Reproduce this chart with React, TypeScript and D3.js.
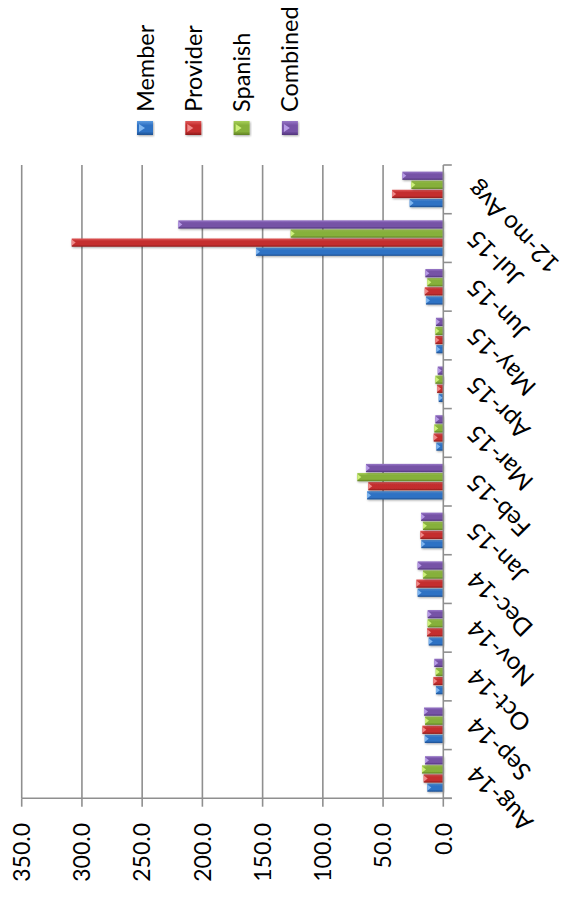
import React from "react";
import * as d3 from "d3";

const categories = ["Aug-14", "Sep-14", "Oct-14", "Nov-14", "Dec-14", "Jan-15", "Feb-15", "Mar-15", "Apr-15", "May-15", "Jun-15", "Jul-15", "12-mo Avg"];
const member = [13.3, 15.4, 6.1, 12.1, 21.3, 18.3, 63.3, 5.8, 3.8, 5.8, 14.4, 155.5, 27.9];
const provider = [16.3, 17.4, 8.3, 13.5, 22.4, 19.1, 62.3, 8.0, 5.2, 6.6, 15.4, 308.5, 42.5];
const spanish = [17.7, 15.2, 6.3, 13.0, 16.9, 16.9, 71.4, 7.5, 6.6, 6.6, 13.3, 126.7, 26.5];
const combined = [15.2, 16.0, 7.5, 13.0, 21.3, 18.5, 64.2, 6.6, 4.6, 6.1, 14.9, 220.0, 34.0];
const seriesNames = ["Member", "Provider", "Spanish", "Combined"];
const valueTicks = [0, 50, 100, 150, 200, 250, 300, 350];

const seriesValues = [member, provider, spanish, combined];
const palette = [
  { base: "#2f72c4", light: "#5d9be0", dark: "#1d4f8f", tri: "#7fb6f0" },
  { base: "#c42f2f", light: "#e05a5a", dark: "#8c1c1c", tri: "#f08a8a" },
  { base: "#86b03a", light: "#a8d05a", dark: "#5e7f22", tri: "#cdf07a" },
  { base: "#7652a6", light: "#9878c8", dark: "#51357a", tri: "#b79be6" },
];

const W = 563;
const H = 898;
const FONT = "Lato, 'Noto Sans', sans-serif";

export default function App() {
  const x = d3.scaleLinear().domain([0, 350]).range([443.3, 21.7]);
  const y = d3.scaleBand<string>().domain(categories).range([798.3, 165]).padding(0);
  const inner = d3
    .scaleBand<string>()
    .domain(seriesNames)
    .range([y.bandwidth(), 0])
    .paddingInner(0)
    .paddingOuter(0.68);
  const x0 = x(0);
  const top = 165;
  const bottom = 798.3;
  const fmt = d3.format(".1f");
  const gridColor = "#8f8f8f";

  const boundaries = categories.map((c) => (y(c) as number) + y.bandwidth()).concat([top]);

  return (
    <svg
      width={W}
      height={H}
      style={{ position: "absolute", left: 0, top: 0, background: "#fff" }}
      fontFamily={FONT}
    >
      <defs>
        {palette.map((p, i) => (
          <linearGradient key={i} id={`g${i}`} x1="0" y1="0" x2="0" y2="1">
            <stop offset="0" stopColor={p.light} />
            <stop offset="0.3" stopColor={p.base} />
            <stop offset="0.75" stopColor={p.base} />
            <stop offset="1" stopColor={p.dark} />
          </linearGradient>
        ))}
        <filter id="sh" x="-10%" y="-50%" width="120%" height="200%">
          <feDropShadow dx="0.8" dy="1" stdDeviation="1.2" floodColor="#000" floodOpacity="0.35" />
        </filter>
      </defs>

      {/* gridlines */}
      {valueTicks.slice(1).map((t) => (
        <line key={t} x1={x(t)} x2={x(t)} y1={top} y2={bottom} stroke={gridColor} strokeWidth={1.6} />
      ))}

      {/* bars */}
      {categories.map((c, ci) => (
        <g key={c}>
          {seriesNames.map((s, si) => {
            const v = seriesValues[si][ci];
            const bx = x(v);
            const by = (y(c) as number) + (inner(s) as number) + 0.4;
            const bh = inner.bandwidth() - 0.8;
            const bw = x0 - bx;
            return (
              <g key={s} filter="url(#sh)">
                <rect x={bx} y={by} width={bw} height={bh} fill={`url(#g${si})`} />
                <polygon
                  points={`${bx},${by + 1} ${bx + Math.min(4, bw)},${by + bh / 2} ${bx},${by + bh - 1}`}
                  fill={palette[si].tri}
                />
              </g>
            );
          })}
        </g>
      ))}

      {/* value axis */}
      <line x1={x(350)} x2={x0 + 8.5} y1={bottom} y2={bottom} stroke={gridColor} strokeWidth={1.6} />
      {valueTicks.map((t) => (
        <g key={t}>
          <line x1={x(t)} x2={x(t)} y1={bottom} y2={bottom + 8.4} stroke={gridColor} strokeWidth={1.6} />
          <text
            transform={`translate(${x(t) + 8.3},823) rotate(-90)`}
            textAnchor="end"
            fontSize={23}
            fill="#000"
          >
            {fmt(t)}
          </text>
        </g>
      ))}

      {/* category axis */}
      <line x1={x0} x2={x0} y1={top} y2={bottom} stroke={gridColor} strokeWidth={1.6} />
      {boundaries.map((b, i) => (
        <line key={i} x1={x0} x2={x0 + 8.5} y1={b} y2={b} stroke={gridColor} strokeWidth={1.6} />
      ))}
      {categories.map((c) => {
        const yc = (y(c) as number) + y.bandwidth() / 2;
        return (
          <text
            key={c}
            transform={`translate(${471},${yc - 3}) rotate(225)`}
            textAnchor="end"
            dominantBaseline="central"
            fontSize={24.5}
            fill="#000"
          >
            {c}
          </text>
        );
      })}

      {/* legend */}
      {seriesNames.map((s, i) => {
        const cx = 145 + i * 48.3;
        const my = 121;
        return (
          <g key={s}>
            <g filter="url(#sh)">
              <rect x={cx - 8} y={my} width={16} height={14} fill={`url(#g${i})`} />
              <polygon points={`${cx - 6},${my + 3} ${cx},${my + 7} ${cx - 6},${my + 11}`} fill={palette[i].tri} />
            </g>
            <text transform={`translate(${cx + 8.5},112) rotate(-90)`} textAnchor="start" fontSize={23.5} fill="#000">
              {s}
            </text>
          </g>
        );
      })}
    </svg>
  );
}
